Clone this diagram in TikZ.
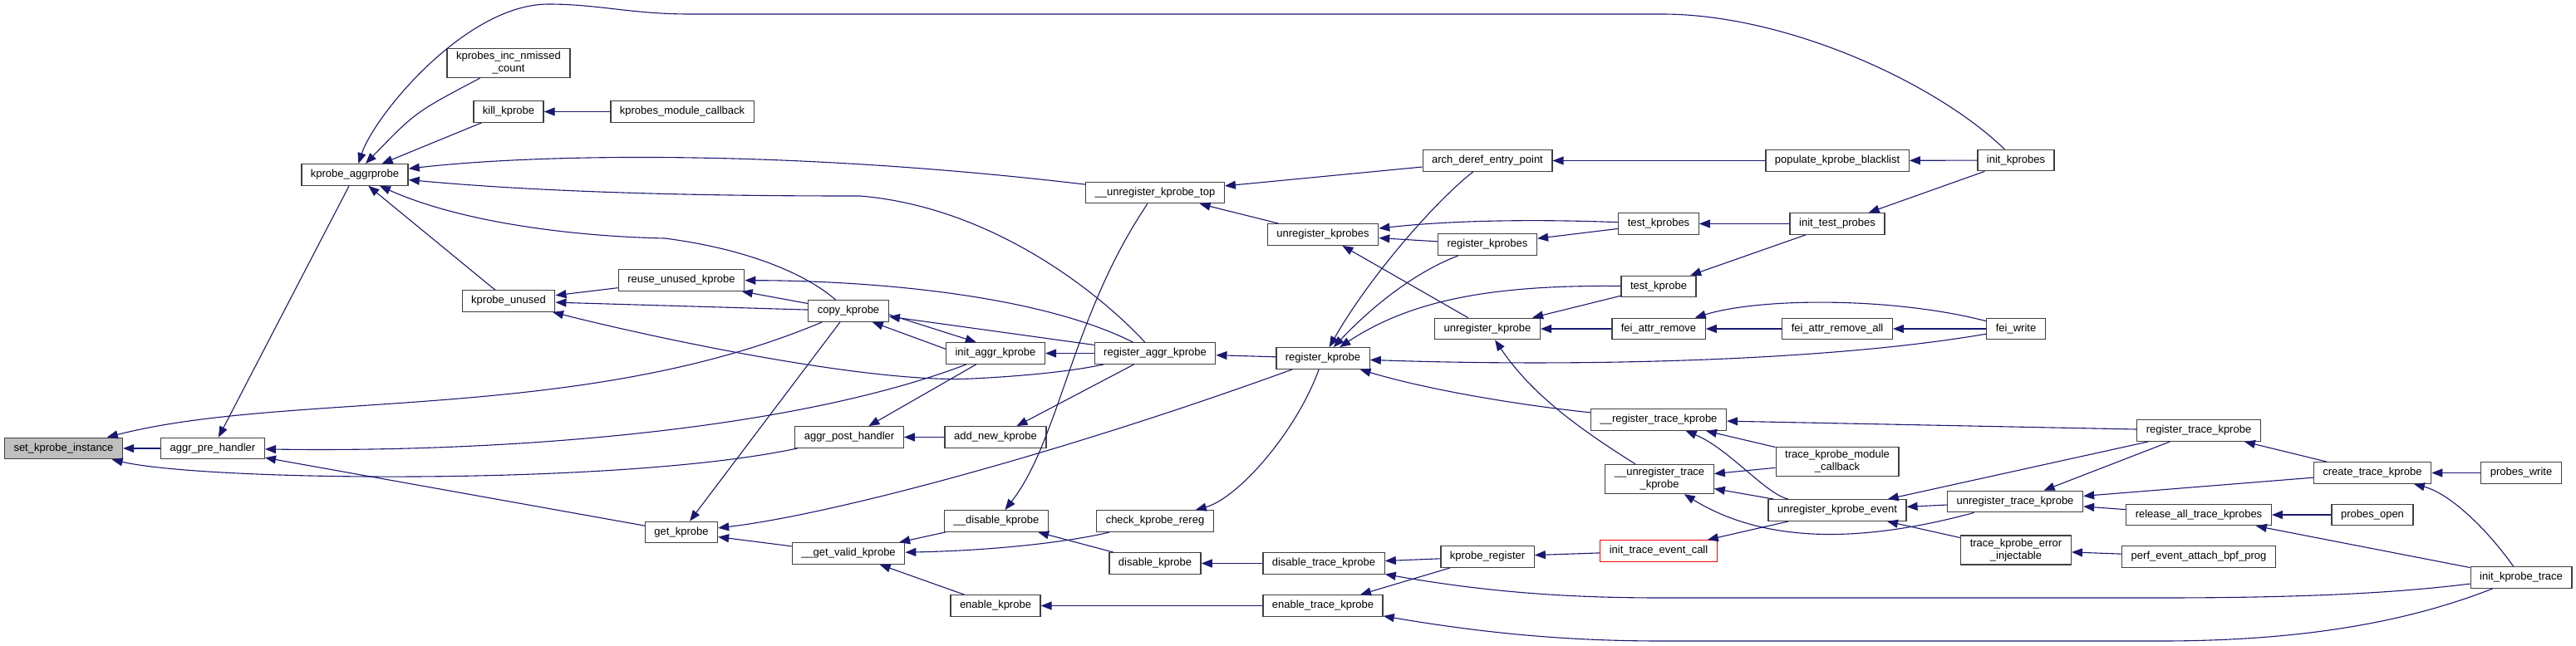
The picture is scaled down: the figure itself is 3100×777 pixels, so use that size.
\documentclass[tikz,border=0pt]{standalone}
\usepackage{fontspec}
\setmainfont{Liberation Sans}
\usepackage{xcolor}
\usepackage{tikz}
\usetikzlibrary{arrows.meta}

\definecolor{edgeblue}{RGB}{25,25,112}
\definecolor{boxgray}{RGB}{64,64,64}
\definecolor{hilite}{RGB}{191,191,191}

\begin{document}
\begin{tikzpicture}[
    x=1bp, y=-1bp,
    func/.style={draw=boxgray, fill=white, line width=1.3bp, inner xsep=11bp, inner ysep=4bp, minimum height=25.5bp, align=center, font=\fontsize{13bp}{15bp}\selectfont},
    focus/.style={func, fill=hilite},
    partial/.style={func, draw=red},
    call/.style={{Triangle[length=13bp,width=10bp]}-, line width=1.1bp, draw=edgeblue}
]
    \useasboundingbox (0,0) rectangle (3100,777);

    % Column 1-4
    \node[focus] (setkpi) at (76.5,540) {set\_kprobe\_instance};
    \node[func] (aggrpre) at (256,540) {aggr\_pre\_handler};
    \node[func] (aggrprobe) at (427,210.5) {kprobe\_aggrprobe};
    \node[func] (incmissed) at (612,76) {kprobes\_inc\_nmissed\\\_count};
    \node[func] (killkp) at (612,134.5) {kill\_kprobe};
    \node[func] (unused) at (612,362.5) {kprobe\_unused};

    % Column 5-6
    \node[func] (modcb) at (821,134.5) {kprobes\_module\_callback};
    \node[func] (reuse) at (820,337.5) {reuse\_unused\_kprobe};
    \node[func] (getkp) at (820,641) {get\_kprobe};
    \node[func] (copykp) at (1021,374.5) {copy\_kprobe};
    \node[func] (postaggr) at (1022,526.5) {aggr\_post\_handler};
    \node[func] (getvalid) at (1021,666.5) {\_\_get\_valid\_kprobe};

    % Column 7-8
    \node[func] (initaggr) at (1198,425.5) {init\_aggr\_kprobe};
    \node[func] (addnew) at (1198,526.5) {add\_new\_kprobe};
    \node[func] (disablekpx) at (1199,627.5) {\_\_disable\_kprobe};
    \node[func] (enablekp) at (1198,729.5) {enable\_kprobe};
    \node[func] (unregtop) at (1390,232) {\_\_unregister\_kprobe\_top};
    \node[func] (regaggr) at (1390,425.5) {register\_aggr\_kprobe};
    \node[func] (rereg) at (1390,627.5) {check\_kprobe\_rereg};
    \node[func] (disablekp) at (1390,678.5) {disable\_kprobe};

    % Column 9-10
    \node[func] (unregkps) at (1592,282.5) {unregister\_kprobes};
    \node[func] (regkp) at (1592,431.5) {register\_kprobe};
    \node[func] (distrace) at (1593,678.5) {disable\_trace\_kprobe};
    \node[func] (entrace) at (1592,729.5) {enable\_trace\_kprobe};
    \node[func] (archderef) at (1790,193.5) {arch\_deref\_entry\_point};
    \node[func] (regkps) at (1790,294.5) {register\_kprobes};
    \node[func] (unregkp) at (1790,396) {unregister\_kprobe};
    \node[func] (kpreg) at (1790,670.5) {kprobe\_register};

    % Column 11-12
    \node[func] (testkps) at (1996,269.5) {test\_kprobes};
    \node[func] (testkp) at (1996,345) {test\_kprobe};
    \node[func] (feiremove) at (1996,396) {fei\_attr\_remove};
    \node[func] (regtracex) at (1996,505.5) {\_\_register\_trace\_kprobe};
    \node[func] (unregtracex) at (1997,577) {\_\_unregister\_trace\\\_kprobe};
    \node[partial] (initevent) at (1996,663.5) {init\_trace\_event\_call};
    \node[func] (blacklist) at (2211,193.5) {populate\_kprobe\_blacklist};
    \node[func] (inittest) at (2211,269.5) {init\_test\_probes};
    \node[func] (feiremoveall) at (2211,396) {fei\_attr\_remove\_all};
    \node[func] (modcbtrace) at (2211,556) {trace\_kprobe\_module\\\_callback};
    \node[func] (unregevent) at (2211,614.5) {unregister\_kprobe\_event};

    % Column 13-16
    \node[func] (initkps) at (2426,193) {init\_kprobes};
    \node[func] (feiwrite) at (2426,396) {fei\_write};
    \node[func] (unregtrace) at (2425,604) {unregister\_trace\_kprobe};
    \node[func] (errinj) at (2426,662.5) {trace\_kprobe\_error\\\_injectable};
    \node[func] (regtrace) at (2646,518.5) {register\_trace\_kprobe};
    \node[func] (releaseall) at (2646,620) {release\_all\_trace\_kprobes};
    \node[func] (perfbpf) at (2646,670.5) {perf\_event\_attach\_bpf\_prog};
    \node[func] (createtrace) at (2855,569.5) {create\_trace\_kprobe};
    \node[func] (probesopen) at (2855,620) {probes\_open};
    \node[func] (probeswrite) at (3034,569.5) {probes\_write};
    \node[func] (initkptrace) at (3034,695.5) {init\_kprobe\_trace};

    % Edges (callee <- caller)
    \draw[call] (setkpi) -- (aggrpre);
    \draw[call] (setkpi) .. controls (350,470) and (700,510) .. (copykp);
    \draw[call] (setkpi) .. controls (250,580) and (750,585) .. (postaggr);
    \draw[call] (aggrpre) -- (aggrprobe);
    \draw[call] (aggrpre) .. controls (600,545) and (950,520) .. (initaggr);
    \draw[call] (aggrpre) -- (getkp);
    \draw[call] (aggrprobe) .. controls (450,140) and (560,5) .. (660,5) .. controls (720,5) and (760,17) .. (830,17) -- (2000,17) .. controls (2150,17) and (2330,100) .. (initkps);
    \draw[call] (aggrprobe) .. controls (500,135) .. (incmissed);
    \draw[call] (aggrprobe) -- (killkp);
    \draw[call] (aggrprobe) .. controls (650,185) and (950,180) .. (unregtop);
    \draw[call] (aggrprobe) .. controls (700,236) and (950,236) .. (1035,236) .. controls (1200,250) and (1330,360) .. (regaggr);
    \draw[call] (aggrprobe) .. controls (560,270) and (700,285) .. (800,287) .. controls (900,300) and (970,330) .. (copykp);
    \draw[call] (aggrprobe) -- (unused);
    \draw[call] (killkp) -- (modcb);
    \draw[call] (unused) -- (reuse);
    \draw[call] (unused) -- (copykp);
    \draw[call] (unused) .. controls (800,410) and (1050,462) .. (1170,456) .. controls (1250,452) and (1300,445) .. (regaggr);
    \draw[call] (reuse) -- (copykp);
    \draw[call] (reuse) .. controls (1050,338) and (1250,355) .. (regaggr);
    \draw[call] (copykp) -- (regaggr);
    \draw[call] (copykp.-25) -- (initaggr.175);
    \draw[call] (initaggr.150) -- (copykp.-5);
    \draw[call] (getkp) -- (copykp);
    \draw[call] (getkp) .. controls (1000,620) and (1280,545) .. (regkp);
    \draw[call] (getkp) -- (getvalid);
    \draw[call] (initaggr) -- (regaggr);
    \draw[call] (postaggr) -- (initaggr);
    \draw[call] (postaggr) -- (addnew);
    \draw[call] (addnew) -- (regaggr);
    \draw[call] (regaggr) -- (regkp);
    \draw[call] (getvalid) -- (disablekpx);
    \draw[call] (getvalid) .. controls (1200,663) and (1290,652) .. (rereg);
    \draw[call] (getvalid) -- (enablekp);
    \draw[call] (disablekpx) -- (disablekp);
    \draw[call] (disablekpx) .. controls (1275,530) and (1290,380) .. (unregtop);
    \draw[call] (rereg) .. controls (1490,600) and (1560,520) .. (regkp);
    \draw[call] (disablekp) -- (distrace);
    \draw[call] (enablekp) -- (entrace);
    \draw[call] (unregtop) -- (archderef);
    \draw[call] (unregtop) -- (unregkps);
    \draw[call] (archderef) -- (blacklist);
    \draw[call] (blacklist) -- (initkps);
    \draw[call] (regkp) .. controls (1650,330) and (1730,240) .. (archderef);
    \draw[call] (regkp) .. controls (1660,360) and (1710,325) .. (regkps);
    \draw[call] (regkp) .. controls (1700,360) and (1800,343) .. (testkp);
    \draw[call] (regkp) .. controls (1900,442) and (2200,435) .. (feiwrite);
    \draw[call] (regkp) .. controls (1720,470) and (1830,488) .. (regtracex);
    \draw[call] (unregkps) .. controls (1750,265) and (1850,264) .. (testkps);
    \draw[call] (unregkps) -- (regkps);
    \draw[call] (unregkps) -- (unregkp);
    \draw[call] (regkps) -- (testkps);
    \draw[call] (testkps) -- (inittest);
    \draw[call] (inittest) -- (initkps);
    \draw[call] (testkp) -- (inittest);
    \draw[call] (unregkp) -- (testkp);
    \draw[call] (unregkp) -- (feiremove);
    \draw[call] (unregkp) .. controls (1840,470) and (1890,510) .. (unregtracex);
    \draw[call] (feiremove) -- (feiremoveall);
    \draw[call] (feiremove) .. controls (2120,358) and (2280,358) .. (feiwrite);
    \draw[call] (feiremoveall) -- (feiwrite);
    \draw[call] (kpreg) -- (initevent);
    \draw[call] (distrace) -- (kpreg);
    \draw[call] (entrace) -- (kpreg);
    \draw[call] (distrace) .. controls (1800,715) and (1900,720) .. (2000,720) -- (2600,720) .. controls (2800,720) and (2900,712) .. (initkptrace);
    \draw[call] (entrace) .. controls (1800,765) and (1900,772) .. (2000,772) -- (2600,772) .. controls (2800,772) and (2920,740) .. (initkptrace);
    \draw[call] (regtracex) -- (regtrace);
    \draw[call] (regtracex) -- (modcbtrace);
    \draw[call] (regtracex) .. controls (2080,540) and (2125,595) .. (unregevent);
    \draw[call] (unregtracex) -- (modcbtrace);
    \draw[call] (unregtracex) -- (unregevent);
    \draw[call] (unregtracex) .. controls (2100,640) and (2200,665) .. (unregtrace);
    \draw[call] (unregevent) -- (unregtrace);
    \draw[call] (unregevent) -- (regtrace);
    \draw[call] (unregevent) -- (errinj);
    \draw[call] (initevent) -- (unregevent);
    \draw[call] (regtrace) -- (createtrace);
    \draw[call] (unregtrace) -- (regtrace);
    \draw[call] (unregtrace) -- (createtrace);
    \draw[call] (unregtrace) -- (releaseall);
    \draw[call] (releaseall) -- (probesopen);
    \draw[call] (releaseall) -- (initkptrace);
    \draw[call] (createtrace) -- (probeswrite);
    \draw[call] (createtrace) .. controls (2950,595) and (2995,640) .. (initkptrace);
    \draw[call] (errinj) -- (perfbpf);

\end{tikzpicture}
\end{document}
